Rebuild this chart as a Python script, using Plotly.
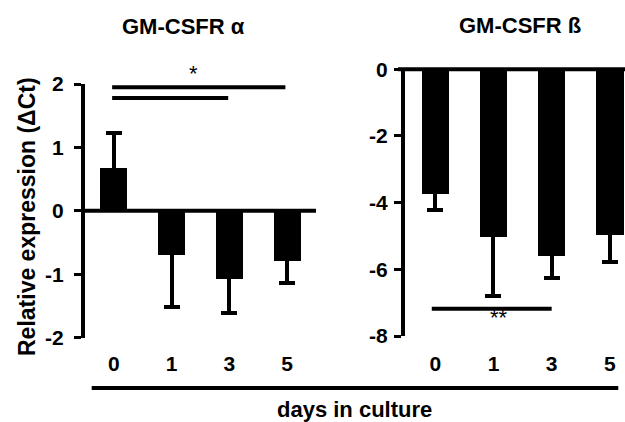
import plotly.graph_objects as go

# ---- data ----
days = ["0", "1", "3", "5"]
alpha_mean = [0.68, -0.69, -1.08, -0.79]
alpha_err = [0.54, 0.83, 0.53, 0.35]      # one-sided, pointing away from zero
beta_mean = [-3.75, -5.04, -5.60, -4.97]
beta_err = [0.47, 1.76, 0.67, 0.82]       # one-sided, pointing away from zero
alpha_ticks = [-2, -1, 0, 1, 2]
alpha_tick_text = ["-2", "-1", "0", "1", "2"]
beta_ticks = [0, -2, -4, -6, -8]
beta_tick_text = ["0", "-2", "-4", "-6", "-8"]

W, H = 625, 422
FONT = "Liberation Sans"
BLACK = "#000000"


def one_sided(means, errs):
    """Outward error only; the inward arm is hidden inside the black bar."""
    plus, minus = [], []
    for m, e in zip(means, errs):
        inner = abs(m) * 0.5
        if m >= 0:
            plus.append(e)
            minus.append(inner)
        else:
            plus.append(inner)
            minus.append(e)
    return plus, minus


fig = go.Figure()

err_style = dict(type="data", symmetric=False, color=BLACK, thickness=4, width=8)

a_plus, a_minus = one_sided(alpha_mean, alpha_err)
b_plus, b_minus = one_sided(beta_mean, beta_err)

fig.add_trace(go.Bar(
    x=days, y=alpha_mean, width=0.47, marker=dict(color=BLACK, line=dict(width=0)),
    error_y=dict(array=a_plus, arrayminus=a_minus, **err_style),
    xaxis="x", yaxis="y", showlegend=False, hoverinfo="skip"))
fig.add_trace(go.Bar(
    x=days, y=beta_mean, width=0.47, marker=dict(color=BLACK, line=dict(width=0)),
    error_y=dict(array=b_plus, arrayminus=b_minus, **err_style),
    xaxis="x2", yaxis="y2", showlegend=False, hoverinfo="skip"))

tickfont = dict(family=FONT, size=21, color=BLACK, weight="bold")

xcommon = dict(type="category", showline=False, showgrid=False, zeroline=False,
               ticks="outside", tickcolor="rgba(0,0,0,0)", ticklen=0,
               tickfont=tickfont, fixedrange=True, automargin=False)
ycommon = dict(showline=True, linecolor=BLACK, linewidth=4, showgrid=False, zeroline=False,
               ticks="outside", tickcolor=BLACK, tickwidth=3, ticklen=7,
               tickfont=tickfont, fixedrange=True, automargin=False)

fig.update_layout(
    width=W, height=H, autosize=False,
    margin=dict(l=0, r=0, t=0, b=0, pad=0, autoexpand=False),
    paper_bgcolor="white", plot_bgcolor="white",
    bargap=0,
    xaxis=dict(domain=[85 / W, 316 / W], range=[-0.5, 3.5], anchor="y",
               ticklabelstandoff=7, **xcommon),
    yaxis=dict(domain=[1 - 337.7 / H, 1 - 84 / H], range=[-2, 2], anchor="x",
               tickvals=alpha_ticks, ticktext=alpha_tick_text, ticklabelstandoff=6, **ycommon),
    xaxis2=dict(domain=[405 / W, 1.0], range=[-0.52, 3.26], anchor="y2",
                ticklabelstandoff=9, **xcommon),
    yaxis2=dict(domain=[1 - 336 / H, 1 - 69.3 / H], range=[-8, 0], anchor="x2",
                tickvals=beta_ticks, ticktext=beta_tick_text, ticklabelstandoff=2, **ycommon),
)

shapes = [
    # zero line left panel
    dict(type="line", xref="x", yref="y", x0=-0.5, x1=3.5, y0=0, y1=0,
         line=dict(color=BLACK, width=4)),
    # zero line right panel (top edge)
    dict(type="line", xref="x2 domain", yref="y2 domain", x0=-7 / 220, x1=1, y0=1, y1=1,
         line=dict(color=BLACK, width=4)),
    # significance lines
    dict(type="line", xref="x", yref="y", x0=-0.03, x1=2.97, y0=1.95, y1=1.95,
         line=dict(color=BLACK, width=4)),
    dict(type="line", xref="x", yref="y", x0=-0.03, x1=1.98, y0=1.78, y1=1.78,
         line=dict(color=BLACK, width=4)),
    dict(type="line", xref="x2", yref="y2", x0=-0.06, x1=2.0, y0=-7.18, y1=-7.18,
         line=dict(color=BLACK, width=4)),
    # bottom "days in culture" line
    dict(type="line", xref="paper", yref="paper", x0=91.7 / W, x1=618.3 / W,
         y0=1 - 388 / H, y1=1 - 388 / H, line=dict(color=BLACK, width=4)),
]

annotations = [
    dict(text="GM-CSFR α", xref="paper", yref="paper", x=183 / W, y=1 - 27 / H,
         showarrow=False, xanchor="center", yanchor="middle",
         font=dict(family=FONT, size=22, color=BLACK, weight="bold")),
    dict(text="GM-CSFR ß", xref="paper", yref="paper", x=520 / W, y=1 - 25 / H,
         showarrow=False, xanchor="center", yanchor="middle",
         font=dict(family=FONT, size=22, color=BLACK, weight="bold")),
    dict(text="Relative expression (ΔCt)", xref="paper", yref="paper", x=27 / W, y=1 - 217 / H,
         showarrow=False, xanchor="center", yanchor="middle", textangle=-90,
         font=dict(family=FONT, size=23, color=BLACK, weight="bold")),
    dict(text="days in culture", xref="paper", yref="paper", x=355 / W, y=1 - 409 / H,
         showarrow=False, xanchor="center", yanchor="middle",
         font=dict(family=FONT, size=22, color=BLACK, weight="bold")),
    dict(text="*", xref="x", yref="y domain", x=1.38, y=(2.17 + 2) / 4, showarrow=False,
         xanchor="center", yanchor="middle",
         font=dict(family=FONT, size=22, color=BLACK)),
    dict(text="**", xref="x2", yref="y2", x=1.09, y=-7.43, showarrow=False,
         xanchor="center", yanchor="middle",
         font=dict(family=FONT, size=22, color=BLACK)),
]

fig.update_layout(shapes=shapes, annotations=annotations)

fig.write_html(
    "out.html",
    config=dict(displayModeBar=False),
    post_script="document.body.style.margin='0';document.body.style.overflow='hidden';",
)
